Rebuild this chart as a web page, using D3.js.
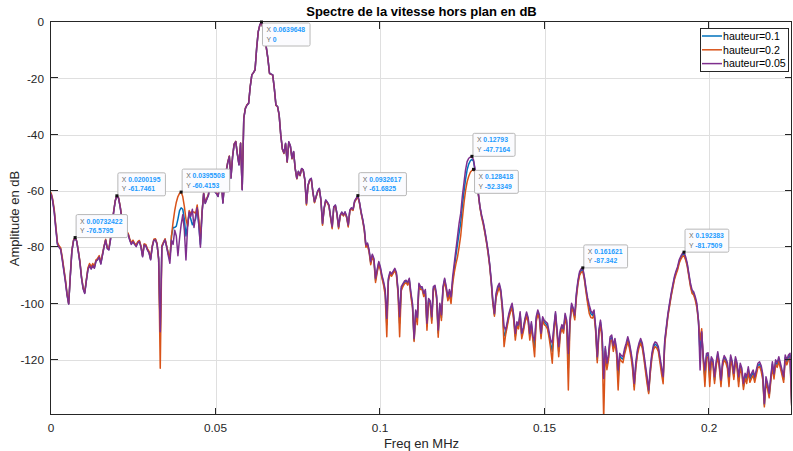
<!DOCTYPE html>
<html>
<head>
<meta charset="utf-8">
<script src="https://cdn.jsdelivr.net/npm/d3@7"></script>
<style>
  body { margin: 0; background: #fff; }
  svg { display: block; font-family: "Liberation Sans", Arial, Helvetica, sans-serif; }
</style>
</head>
<body>
<svg id="chart" width="793" height="451"></svg>
<script>
// FFT bin spacing of the spectra (MHz)
const binWidth = 1 / 2048;

const titleText = "Spectre de la vitesse hors plan en dB";
const xLabel = "Freq en MHz";
const yLabel = "Amplitude en dB";
const seriesNames = ["hauteur=0.1", "hauteur=0.2", "hauteur=0.05"];
const xTicks = [0, 0.05, 0.1, 0.15, 0.2];
const xTickLabels = ["0", "0.05", "0.1", "0.15", "0.2"];
const yTicks = [0, -20, -40, -60, -80, -100, -120];
const yTickLabels = ["0", "-20", "-40", "-60", "-80", "-100", "-120"];

// Amplitude (dB) per frequency bin, hauteur = 0.1
const h010 = [
-60.8,-63.2,-67.0,-73.0,-78.7,-79.8,-80.5,-84.0,-88.0,-92.0,
-96.8,-100.1,-90.3,-81.3,-77.7,-76.6,-77.9,-81.4,-85.3,-90.8,
-94.6,-96.2,-91.8,-87.7,-86.2,-87.4,-86.2,-87.2,-84.8,-84.3,
-83.3,-85.8,-82.8,-79.8,-77.4,-80.3,-80.8,-77.3,-71.9,-67.4,
-63.5,-61.7,-62.5,-65.4,-69.3,-72.3,-74.0,-74.8,-75.3,-77.3,
-78.8,-77.8,-78.8,-79.5,-78.3,-77.8,-79.8,-83.2,-79.0,-79.3,
-80.8,-81.8,-84.3,-79.8,-77.4,-77.2,-78.8,-84.2,-111.0,-79.8,
-78.4,-77.2,-79.8,-82.5,-84.0,-76.0,-73.0,-73.0,-72.5,-70.0,
-67.0,-66.0,-66.5,-70.0,-76.0,-72.0,-68.0,-70.0,-72.0,-71.0,
-70.0,-66.0,-72.0,-79.0,-67.8,-60.9,-64.3,-62.8,-61.4,-56.9,
-52.9,-57.8,-60.2,-60.9,-61.9,-57.9,-56.4,-64.2,-56.9,-53.1,
-49.9,-47.7,-55.4,-47.9,-43.4,-42.5,-46.9,-50.7,-43.1,-59.5,
-34.1,-30.7,-29.5,-28.9,-23.0,-18.8,-18.0,-17.0,-9.3,-3.4,
-1.0,0,-2.2,-5.0,-9.0,-12.9,-18.2,-18.5,-18.8,-23.6,
-29.5,-30.0,-33.0,-40.1,-45.1,-46.6,-43.2,-49.7,-42.6,-44.1,
-48.5,-46.1,-52.1,-55.6,-53.1,-54.5,-52.1,-52.6,-56.1,-64.6,
-58.0,-56.1,-55.6,-60.4,-64.0,-62.1,-60.1,-59.2,-63.2,-71.8,
-66.2,-63.3,-64.1,-65.2,-69.2,-73.0,-65.8,-65.1,-68.2,-73.0,
-68.8,-67.6,-68.7,-67.6,-69.2,-72.4,-67.0,-66.2,-66.7,-63.7,
-62.8,-61.9,-64.2,-67.6,-70.3,-73.6,-79.6,-78.9,-81.4,-85.6,
-82.9,-84.5,-91.7,-88.5,-85.5,-87.5,-90.5,-92.8,-96.0,-107.5,
-91.5,-89.1,-89.9,-88.9,-87.9,-89.5,-95.7,-107.0,-94.7,-93.5,
-92.5,-92.1,-93.0,-91.5,-96.7,-100.6,-113.0,-103.0,-106.0,-93.3,
-94.5,-94.5,-96.9,-95.6,-108.0,-98.8,-99.6,-105.8,-94.5,-94.0,
-97.6,-110.5,-100.4,-105.0,-94.5,-91.5,-94.6,-98.3,-96.0,-98.7,
-92.0,-87.5,-83.0,-79.0,-75.0,-71.5,-65.5,-60.5,-56.0,-52.5,
-50.5,-49.3,-48.8,-49.5,-53.0,-56.5,-61.2,-65.8,-68.9,-71.3,
-74.3,-77.8,-81.5,-86.1,-92.1,-99.4,-104.0,-97.2,-95.0,-93.4,
-95.8,-102.0,-111.5,-110.2,-107.2,-104.2,-102.2,-100.6,-105.0,-111.6,
-107.2,-108.2,-103.6,-111.5,-109.2,-106.0,-103.7,-105.7,-111.6,-107.2,
-112.6,-115.5,-105.5,-103.0,-104.7,-111.5,-105.3,-106.7,-107.2,-108.0,
-111.0,-114.3,-117.0,-109.0,-103.6,-110.2,-117.0,-110.2,-108.2,-109.7,
-104.2,-107.0,-123.0,-106.7,-100.6,-102.2,-104.9,-97.1,-92.3,-89.3,
-88.2,-88.0,-91.0,-95.2,-99.0,-101.8,-103.6,-104.2,-103.0,-109.0,
-120.0,-110.2,-106.6,-111.6,-125.0,-116.0,-122.2,-119.0,-112.6,-112.0,
-116.0,-113.2,-117.0,-126.5,-118.5,-119.4,-119.8,-117.0,-115.0,-112.6,
-114.8,-118.0,-122.0,-129.5,-122.0,-117.3,-114.8,-113.2,-114.9,-118.6,
-123.0,-127.0,-131.5,-124.0,-118.5,-115.5,-114.4,-114.9,-116.1,-119.8,
-123.5,-127.0,-113.8,-108.9,-104.0,-100.5,-97.0,-94.0,-91.0,-89.1,
-87.5,-85.1,-83.8,-82.7,-82.3,-84.0,-86.2,-89.8,-93.4,-95.8,
-96.4,-98.2,-100.8,-106.2,-118.0,-110.5,-119.7,-126.5,-118.5,-118.2,
-126.5,-119.7,-120.8,-127.2,-121.5,-117.9,-122.0,-128.3,-121.5,-119.2,
-120.2,-122.0,-127.7,-119.1,-121.4,-126.0,-119.7,-122.0,-127.7,-122.0,
-124.0,-129.4,-125.6,-127.2,-123.4,-127.0,-125.7,-124.5,-127.0,-124.4,
-122.0,-121.5,-123.0,-126.0,-136.0,-127.0,-129.3,-132.7,-126.9,-121.5,
-125.9,-120.8,-121.8,-119.7,-122.1,-124.5,-127.0,-119.1,-120.9,-119.1,
-118.5,-136.0
];

// Amplitude (dB) per frequency bin, hauteur = 0.2
const h020 = [
-60.5,-62.8,-66.5,-72.5,-78.3,-79.5,-80.2,-83.5,-87.5,-91.5,
-96.5,-100.0,-90.0,-81.0,-77.5,-76.6,-77.8,-81.2,-85.0,-90.5,
-94.3,-96.0,-91.5,-87.3,-85.8,-87.0,-85.8,-86.8,-84.5,-84.0,
-83.0,-85.5,-82.5,-79.6,-77.2,-80.0,-80.5,-77.0,-71.8,-67.3,
-63.4,-61.7,-62.4,-65.2,-69.0,-72.0,-73.8,-74.6,-75.0,-77.0,
-78.5,-77.5,-78.6,-79.2,-78.0,-77.6,-79.5,-83.0,-78.8,-79.0,
-80.5,-81.5,-84.0,-79.5,-77.2,-77.0,-78.6,-84.5,-123.0,-79.5,
-78.2,-77.0,-79.6,-82.0,-84.0,-76.0,-71.0,-67.0,-64.0,-62.0,
-60.9,-60.4153,-62.0,-65.5,-70.0,-72.5,-67.0,-68.0,-67.5,-67.5,
-68.0,-65.0,-70.0,-77.0,-67.5,-60.8,-64.0,-62.6,-61.2,-56.8,
-52.8,-57.6,-60.0,-60.7,-61.7,-57.8,-56.3,-64.0,-56.8,-53.0,
-49.8,-47.6,-55.2,-47.8,-43.3,-42.4,-46.8,-50.5,-43.0,-59.3,
-34.0,-30.6,-29.4,-28.8,-22.9,-18.8,-18.0,-17.0,-9.3,-3.4,
-1.0,-0.1,-2.3,-5.1,-9.1,-13.0,-18.3,-18.6,-18.9,-23.7,
-29.6,-30.1,-33.1,-40.2,-45.2,-46.7,-43.3,-49.8,-42.7,-44.2,
-48.6,-46.2,-52.2,-55.7,-53.2,-54.6,-52.2,-52.7,-56.3,-65.0,
-58.2,-56.3,-55.8,-60.6,-64.2,-62.3,-60.3,-59.4,-63.4,-72.2,
-66.4,-63.5,-64.3,-65.4,-69.5,-73.4,-66.0,-65.3,-68.4,-73.4,
-69.0,-67.8,-68.9,-67.8,-69.5,-72.8,-67.2,-66.4,-66.9,-63.9,
-63.0,-62.1,-64.4,-67.9,-70.6,-74.0,-80.0,-79.3,-81.8,-86.2,
-83.3,-85.0,-92.5,-89.0,-86.0,-88.0,-91.0,-93.5,-97.0,-111.8,
-92.0,-89.5,-90.3,-89.3,-88.3,-90.0,-96.5,-111.8,-95.5,-94.0,
-93.0,-92.6,-93.5,-92.0,-97.5,-101.5,-113.5,-104.0,-107.5,-93.8,
-95.0,-95.0,-97.5,-96.2,-109.5,-99.5,-100.3,-107.0,-95.0,-94.5,
-98.3,-112.0,-101.0,-106.0,-95.0,-92.0,-95.2,-99.0,-97.0,-100.0,
-93.0,-89.0,-86.0,-83.5,-80.0,-76.0,-70.0,-64.5,-60.0,-56.8,
-54.8,-53.4,-52.7,-52.3349,-53.6,-56.8,-61.3,-66.0,-69.3,-71.8,
-74.8,-78.2,-82.0,-86.6,-92.6,-100.0,-104.5,-98.0,-96.0,-94.2,
-96.5,-103.0,-115.3,-111.0,-108.0,-105.0,-103.0,-101.5,-106.0,-113.0,
-108.0,-109.0,-104.3,-112.5,-110.0,-106.8,-104.5,-106.5,-113.0,-108.0,
-113.5,-118.9,-106.5,-103.8,-105.5,-112.5,-106.0,-107.5,-108.0,-109.0,
-112.0,-116.0,-121.2,-110.0,-104.3,-111.0,-118.9,-111.0,-109.0,-110.5,
-105.0,-108.0,-130.7,-107.5,-101.5,-103.0,-105.8,-98.0,-93.0,-90.0,
-88.9,-88.6,-91.6,-96.0,-100.0,-103.5,-105.0,-105.2,-104.0,-110.0,
-121.0,-111.0,-107.5,-113.0,-141.0,-117.0,-123.5,-120.0,-113.5,-113.0,
-117.0,-114.0,-118.0,-130.7,-119.5,-120.5,-121.0,-118.0,-115.8,-113.5,
-115.8,-119.0,-123.5,-130.7,-123.0,-118.2,-115.6,-114.0,-115.8,-119.5,
-124.0,-128.5,-132.0,-124.8,-119.4,-116.4,-115.3,-115.8,-117.0,-120.8,
-125.0,-128.5,-114.5,-109.5,-104.5,-101.0,-97.5,-94.5,-91.6,-89.7,
-88.1,-85.7,-84.3,-83.3,-83.0,-84.5,-86.8,-90.4,-94.0,-96.4,
-97.0,-98.8,-101.5,-106.5,-113.0,-109.0,-120.5,-129.5,-119.3,-119.0,
-129.5,-120.5,-121.8,-128.4,-122.3,-118.7,-123.0,-129.5,-122.3,-120.0,
-121.0,-123.0,-129.5,-120.0,-122.3,-127.0,-120.5,-123.0,-129.5,-123.0,
-125.0,-130.5,-126.5,-128.4,-124.3,-128.0,-126.6,-125.5,-128.0,-125.3,
-122.8,-122.4,-124.0,-127.0,-136.7,-128.0,-130.3,-133.5,-127.8,-122.4,
-126.8,-121.6,-122.7,-120.6,-123.0,-125.4,-128.0,-120.0,-121.8,-120.0,
-119.4,-136.5
];

// Amplitude (dB) per frequency bin, hauteur = 0.05
const h005 = [
-61.0,-63.5,-67.5,-73.5,-79.0,-80.0,-80.8,-84.5,-88.5,-92.5,
-97.0,-100.2,-90.5,-81.5,-77.8,-76.5795,-77.9,-81.6,-85.5,-91.0,
-94.8,-96.4,-92.0,-88.0,-86.5,-87.8,-86.5,-87.5,-85.0,-84.5,
-83.5,-86.0,-83.0,-80.0,-77.5,-80.5,-81.0,-77.5,-72.0,-67.5,
-63.5,-61.7461,-62.5,-65.5,-69.5,-72.5,-74.2,-75.0,-75.5,-77.5,
-79.0,-78.0,-79.0,-79.8,-78.5,-78.0,-80.0,-83.4,-79.2,-79.5,
-81.0,-82.0,-84.5,-80.0,-77.6,-77.4,-79.0,-84.0,-110.0,-80.0,
-78.6,-77.4,-80.0,-83.0,-85.7,-77.5,-79.0,-74.0,-76.0,-83.0,
-77.0,-72.0,-68.5,-74.0,-84.5,-73.0,-67.5,-69.0,-66.5,-73.0,
-69.0,-66.0,-72.0,-80.0,-68.0,-61.0,-64.5,-63.0,-61.5,-57.0,
-53.0,-58.0,-60.3,-61.0,-62.0,-58.0,-56.5,-64.4,-57.0,-53.2,
-50.0,-47.8,-55.5,-48.0,-43.5,-42.5,-47.0,-50.8,-43.1,-59.7,
-34.2,-30.7,-29.5,-28.9,-23.0,-18.8,-18.0,-17.0,-9.3,-3.4,
-1.0,0,-2.2,-5.0,-9.0,-12.9,-18.2,-18.5,-18.8,-23.6,
-29.5,-30.0,-33.0,-40.0,-45.0,-46.5,-43.1,-49.6,-42.5,-44.0,
-48.4,-46.0,-52.0,-55.5,-53.0,-54.4,-52.0,-52.5,-56.0,-64.4,
-57.9,-56.0,-55.5,-60.3,-63.8,-62.0,-60.0,-59.1,-63.0,-71.5,
-66.0,-63.2,-64.0,-65.0,-69.0,-72.7,-65.6,-65.0,-68.0,-72.7,
-68.6,-67.5,-68.5,-67.4,-69.0,-72.1,-66.8,-66.0,-66.5,-63.5,
-62.6,-61.6825,-64.0,-67.4,-70.0,-73.3,-79.2,-78.5,-81.0,-85.1,
-82.5,-84.0,-91.0,-88.0,-85.1,-87.0,-90.0,-92.2,-95.0,-105.3,
-91.0,-88.7,-89.5,-88.5,-87.5,-89.0,-95.0,-104.7,-94.0,-93.0,
-92.0,-91.7,-92.5,-91.0,-96.0,-99.9,-112.4,-102.3,-105.0,-92.8,
-94.0,-94.0,-96.4,-95.0,-107.0,-98.2,-99.0,-104.7,-94.0,-93.5,
-97.0,-109.4,-99.9,-104.0,-94.0,-91.0,-94.0,-97.6,-95.0,-97.6,
-90.5,-85.7,-81.0,-76.3,-71.5,-68.0,-62.0,-57.3,-52.6,-49.6,
-48.4,-48.0,-47.7164,-49.0,-52.6,-56.1,-60.9,-65.6,-68.6,-70.9,
-73.9,-77.4,-81.0,-85.7,-91.7,-98.8,-103.5,-96.4,-94.0,-92.8,
-95.2,-101.1,-108.2,-109.4,-106.5,-103.5,-101.5,-99.9,-104.0,-110.6,
-106.5,-107.5,-102.9,-110.6,-108.5,-105.3,-103.0,-105.0,-110.6,-106.5,
-111.8,-113.0,-104.7,-102.3,-104.0,-110.6,-104.7,-106.0,-106.5,-107.0,
-110.0,-113.0,-114.0,-108.2,-102.9,-109.4,-115.3,-109.4,-107.5,-109.0,
-103.5,-106.0,-117.7,-105.9,-99.9,-101.5,-104.1,-96.4,-91.7,-88.7,
-87.6,-87.342,-90.5,-94.5,-98.0,-100.5,-102.5,-103.5,-102.3,-108.2,
-118.9,-109.4,-105.9,-110.6,-126.6,-115.3,-121.2,-118.0,-111.8,-111.2,
-115.0,-112.4,-116.0,-123.6,-117.7,-118.5,-118.9,-116.0,-114.1,-111.8,
-114.0,-117.1,-121.0,-128.4,-121.0,-116.5,-114.0,-112.4,-114.0,-117.7,
-122.0,-126.0,-130.7,-123.0,-117.7,-114.7,-113.6,-114.0,-115.3,-118.9,
-122.5,-126.0,-113.0,-108.2,-103.5,-99.9,-96.4,-93.4,-90.5,-88.5,
-86.9,-84.5,-83.2,-82.2,-81.7509,-83.4,-85.7,-89.3,-92.8,-95.2,
-95.8,-97.6,-100.0,-106.0,-123.6,-110.0,-118.9,-123.6,-117.7,-117.5,
-123.6,-118.9,-120.0,-126.0,-120.7,-117.1,-121.0,-127.2,-120.7,-118.5,
-119.5,-121.0,-126.0,-118.3,-120.5,-124.8,-118.9,-121.0,-126.0,-121.2,
-123.0,-128.4,-124.8,-126.0,-122.5,-126.0,-124.8,-123.6,-126.0,-123.6,
-121.2,-120.7,-122.0,-125.0,-135.5,-126.0,-128.4,-131.9,-126.0,-120.7,
-125.0,-120.0,-121.0,-118.9,-121.2,-123.6,-126.0,-118.3,-120.0,-118.3,
-117.7,-135.5
];

// Bins carrying a data tip, per series
const tipBinsH005 = [15, 41, 131, 191, 262, 331, 394];
const tipBinsH020 = [81, 263];

const series = [
  { name: seriesNames[0], values: h010, color: "#0072BD" },
  { name: seriesNames[1], values: h020, color: "#D95319" },
  { name: seriesNames[2], values: h005, color: "#7E2F8E" }
];

const W = 793, H = 451;
const m = { left: 51, right: 1, top: 22, bottom: 36 };
const svg = d3.select("#chart");

const x = d3.scaleLinear().domain([0, 0.2252]).range([m.left, W - m.right]);
const y = d3.scaleLinear().domain([-139.6, 0]).range([H - m.bottom, m.top]);
const x0 = x.range()[0], x1 = x.range()[1], y0 = y.range()[1], y1 = y.range()[0];

const axisColor = "#262626";
const tickLen = 7.4;

// grid
const grid = svg.append("g").attr("shape-rendering", "crispEdges");
grid.selectAll("line.gx").data(xTicks.slice(1)).join("line")
  .attr("x1", d => Math.round(x(d)) + 0.5).attr("x2", d => Math.round(x(d)) + 0.5)
  .attr("y1", y0).attr("y2", y1).attr("stroke", "#dfdfdf");
grid.selectAll("line.gy").data(yTicks.slice(1)).join("line")
  .attr("y1", d => Math.round(y(d)) + 0.5).attr("y2", d => Math.round(y(d)) + 0.5)
  .attr("x1", x0).attr("x2", x1).attr("stroke", "#dfdfdf");

// clip for the plot area
svg.append("clipPath").attr("id", "plotClip")
  .append("rect").attr("x", x0).attr("y", y0 - 1).attr("width", x1 - x0).attr("height", y1 - y0 + 1);

const line = d3.line()
  .x((d, i) => x(i * binWidth))
  .y(d => y(d));

svg.append("g").attr("clip-path", "url(#plotClip)")
  .selectAll("path").data(series).join("path")
  .attr("d", s => line(s.values))
  .attr("fill", "none")
  .attr("stroke", s => s.color)
  .attr("stroke-width", 1.5)
  .attr("stroke-linejoin", "round");

// axes box with inward ticks
const axG = svg.append("g").attr("shape-rendering", "crispEdges").attr("stroke", axisColor);
axG.append("rect").attr("x", x0 - 0.5).attr("y", y0 - 0.5).attr("width", x1 - x0).attr("height", y1 - y0)
  .attr("fill", "none").attr("stroke-width", 1);
xTicks.forEach(t => {
  const px = Math.round(x(t)) - 0.5;
  axG.append("line").attr("x1", px).attr("x2", px).attr("y1", y1).attr("y2", y1 - tickLen);
  axG.append("line").attr("x1", px).attr("x2", px).attr("y1", y0).attr("y2", y0 + tickLen);
});
yTicks.forEach(t => {
  const py = Math.round(y(t)) - 0.5;
  axG.append("line").attr("x1", x0).attr("x2", x0 + tickLen).attr("y1", py).attr("y2", py);
  axG.append("line").attr("x1", x1).attr("x2", x1 - tickLen).attr("y1", py).attr("y2", py);
});

// tick labels
svg.append("g").selectAll("text").data(xTicks).join("text")
  .attr("x", d => x(d)).attr("y", y1 + 17)
  .attr("text-anchor", "middle").attr("font-size", 11.8).attr("fill", axisColor)
  .text((d, i) => xTickLabels[i]);
svg.append("g").selectAll("text").data(yTicks).join("text")
  .attr("x", x0 - 7).attr("y", d => y(d) + 4.2)
  .attr("text-anchor", "end").attr("font-size", 11.8).attr("fill", axisColor)
  .text((d, i) => yTickLabels[i]);

// axis labels and title
svg.append("text").attr("x", (x0 + x1) / 2).attr("y", 448)
  .attr("text-anchor", "middle").attr("font-size", 13).attr("fill", axisColor).text(xLabel);
svg.append("text").attr("transform", `translate(18.5,${(y0 + y1) / 2}) rotate(-90)`)
  .attr("text-anchor", "middle").attr("font-size", 13).attr("fill", axisColor).text(yLabel);
svg.append("text").attr("x", (x0 + x1) / 2).attr("y", 16)
  .attr("text-anchor", "middle").attr("font-size", 13).attr("font-weight", "bold").attr("fill", "#000").text(titleText);

// data tips (plain hyphen-minus for negative values)
const fmt6 = d3.format(".6~g");
const fmt = v => fmt6(v).replace("\u2212", "-");
const tips = [
  ...tipBinsH005.map(b => ({ bin: b, v: h005[b] })),
  ...tipBinsH020.map(b => ({ bin: b, v: h020[b] }))
];
const below = new Set([131, 263]);
const tipG = svg.append("g");
tips.forEach(t => {
  const px = x(t.bin * binWidth), py = y(t.v);
  const g = tipG.append("g");
  const boxH = 23;
  const top = below.has(t.bin) ? py + 1 : py - boxH;
  const left = px + 1;
  const rect = g.append("rect").attr("x", left).attr("y", top).attr("height", boxH)
    .attr("rx", 1.5).attr("fill", "#fbfbfe").attr("stroke", "#b8b8b8").attr("stroke-width", 1);
  const rows = [["X", fmt(t.bin * binWidth)], ["Y", fmt(t.v)]];
  let maxW = 0;
  rows.forEach((r, i) => {
    const tx = g.append("text").attr("x", left + 4).attr("y", top + 9 + i * 9.5).attr("font-size", 6.8);
    tx.append("tspan").attr("fill", "#6b6b6b").text(r[0] + " ");
    tx.append("tspan").attr("fill", "#1e9bff").attr("font-weight", "bold").text(r[1]);
    maxW = Math.max(maxW, tx.node().getComputedTextLength());
  });
  rect.attr("width", maxW + 9);
  tipG.append("rect").attr("x", px - 1.5).attr("y", py - 1.5).attr("width", 3).attr("height", 3).attr("fill", "#111");
});

// legend
const lg = svg.append("g");
const lgX = 700, lgY = 28, lgW = 88, lgH = 43;
lg.append("rect").attr("x", lgX + 0.5).attr("y", lgY + 0.5).attr("width", lgW).attr("height", lgH)
  .attr("fill", "#fff").attr("stroke", axisColor).attr("stroke-width", 1).attr("shape-rendering", "crispEdges");
series.forEach((s, i) => {
  const ry = lgY + 8 + i * 13.8;
  lg.append("line").attr("x1", lgX + 2).attr("x2", lgX + 22).attr("y1", ry).attr("y2", ry)
    .attr("stroke", s.color).attr("stroke-width", 1.5);
  lg.append("text").attr("x", lgX + 23).attr("y", ry + 3.8).attr("font-size", 10.6).attr("fill", "#000").text(s.name);
});
</script>
</body>
</html>
